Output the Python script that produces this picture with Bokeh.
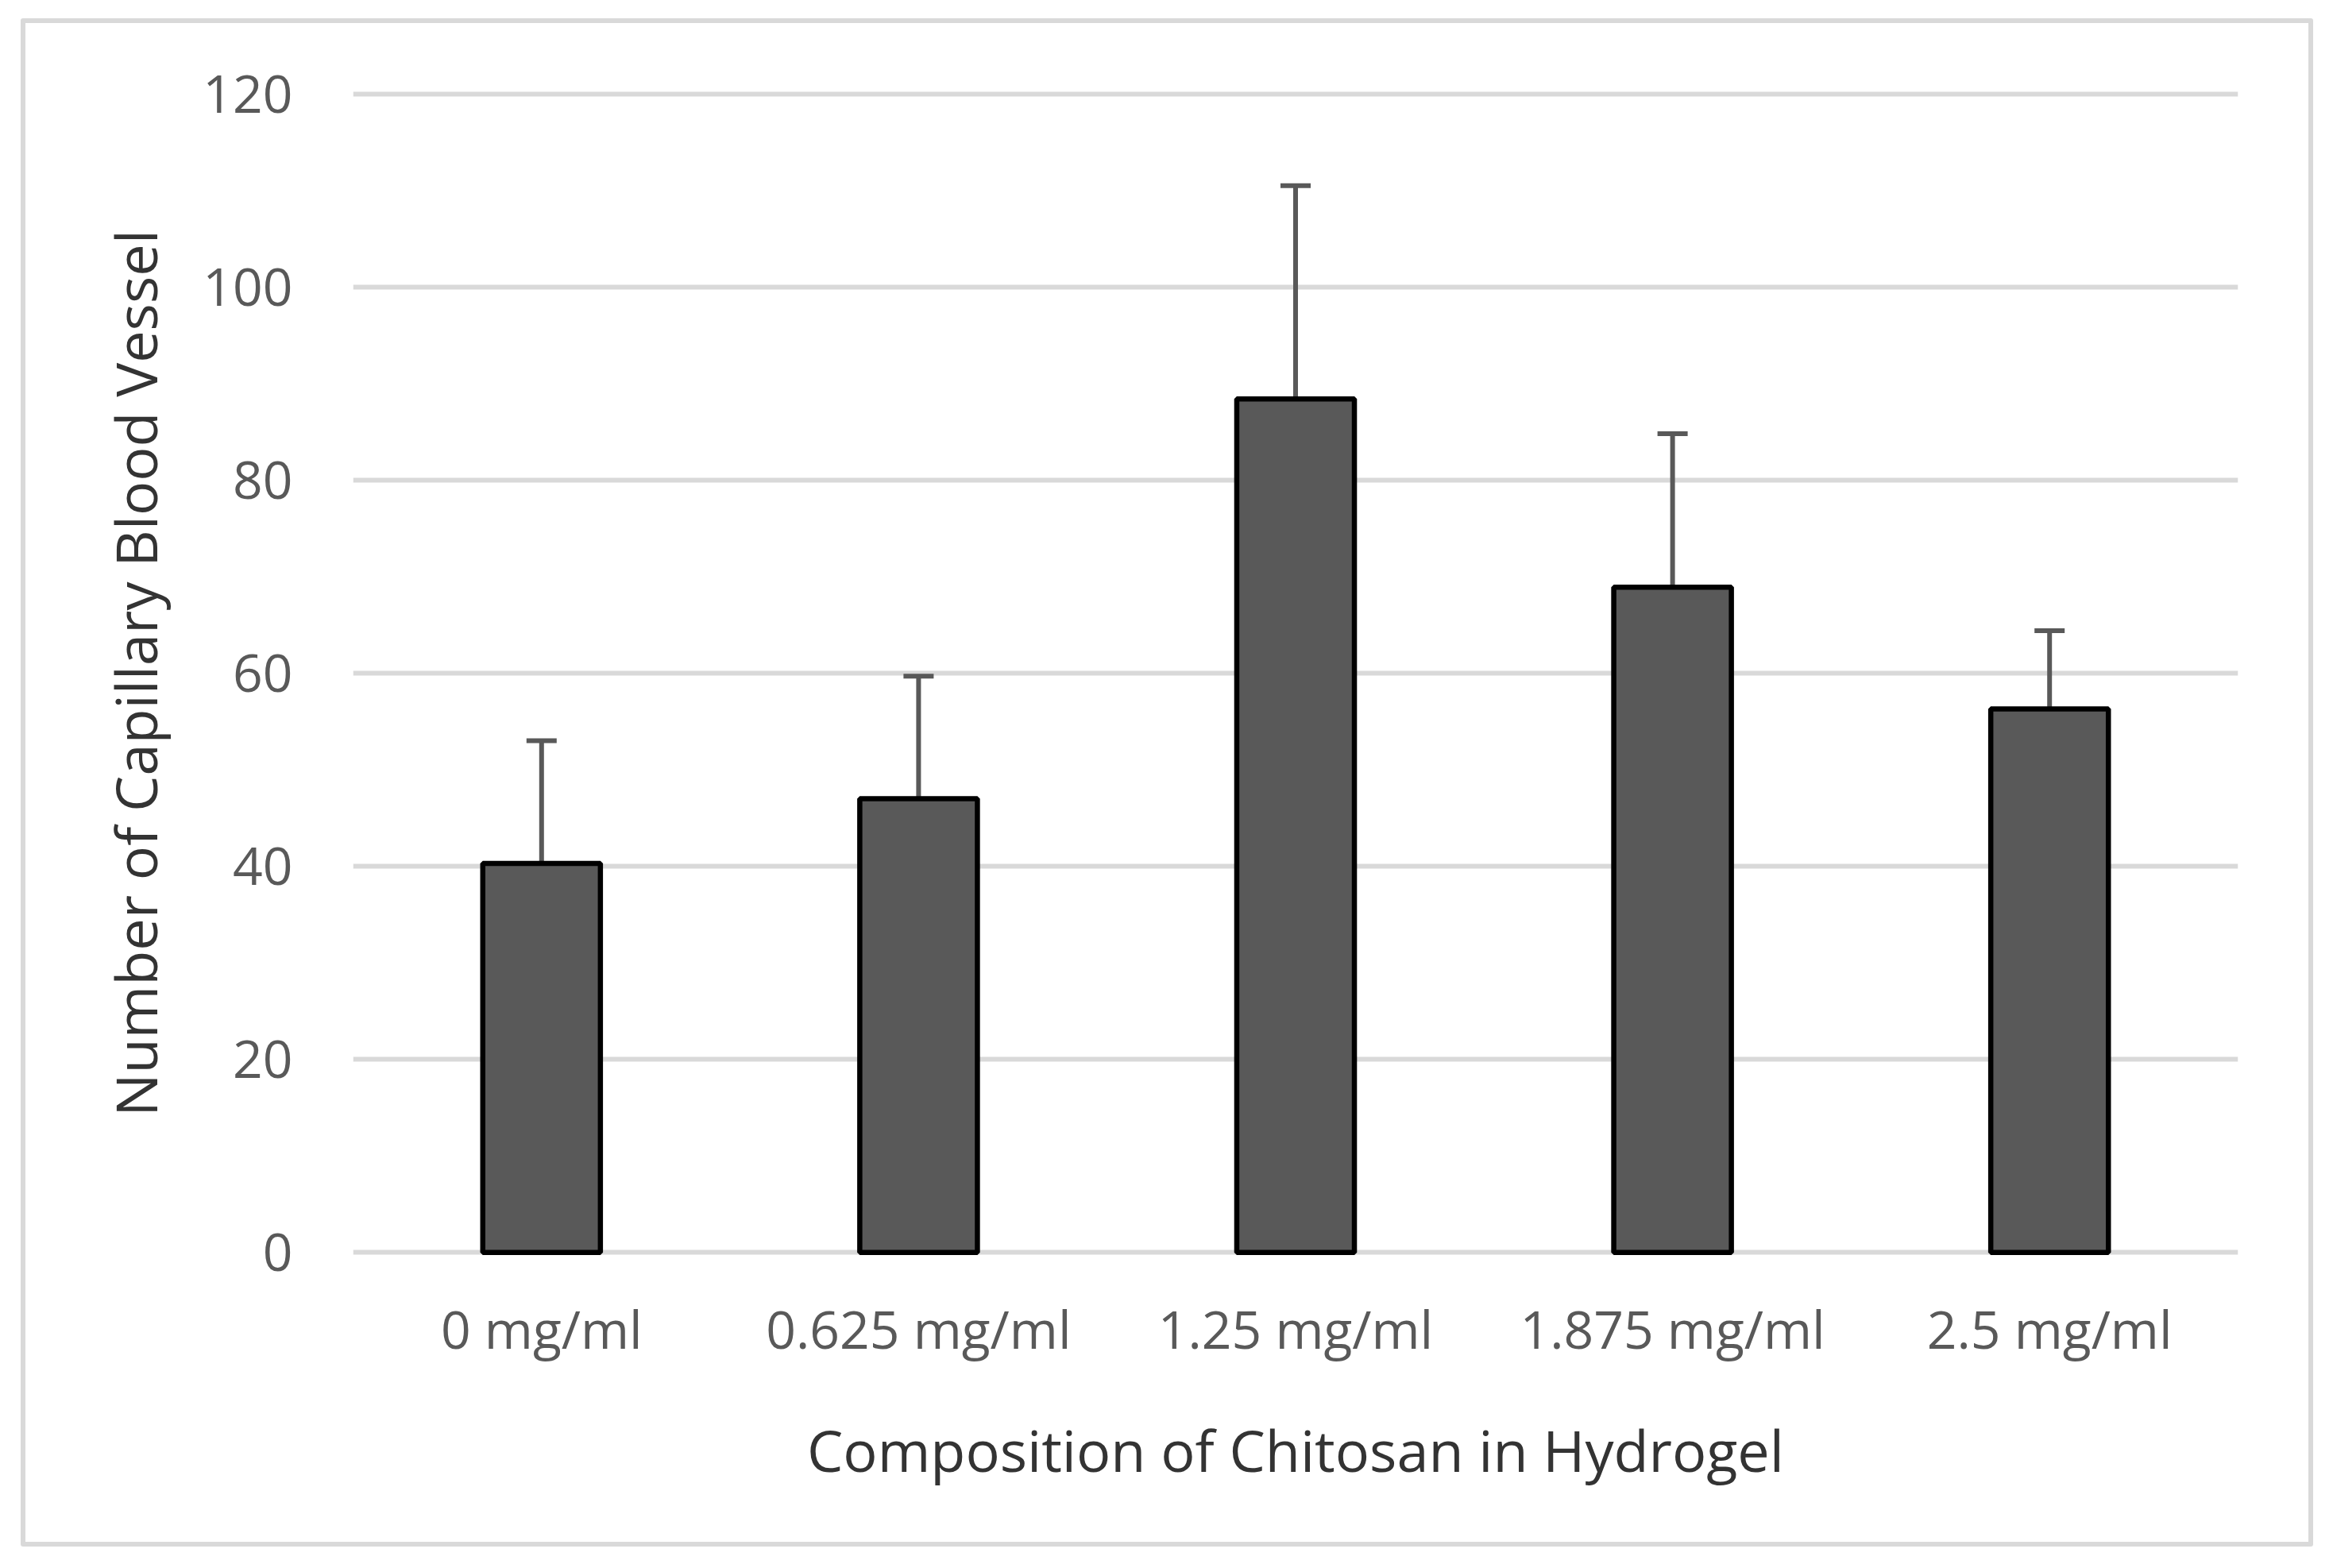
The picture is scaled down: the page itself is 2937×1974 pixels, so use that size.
from bokeh.plotting import figure
from bokeh.models import ColumnDataSource, Whisker, TeeHead, Range1d, FactorRange, FixedTicker
from bokeh.embed import file_html
from bokeh.resources import INLINE

categories = ["0 mg/ml", "0.625 mg/ml", "1.25 mg/ml", "1.875 mg/ml", "2.5 mg/ml"]
means = [40.3, 47.0, 88.4, 68.9, 56.3]
errors = [12.7, 12.7, 22.1, 15.9, 8.1]
y_ticks = [0, 20, 40, 60, 80, 100, 120]

x_title = "Composition of Chitosan in Hydrogel"
y_title = "Number of Capillary Blood Vessel"

W, H = 2886, 1924
FONT = "Open Sans"

src = ColumnDataSource(data=dict(
    x=categories,
    top=means,
    upper=[m + e for m, e in zip(means, errors)],
))

p = figure(
    width=W, height=H,
    x_range=FactorRange(*categories, range_padding=0),
    y_range=Range1d(-0.3, 120.3),
    output_backend="svg", toolbar_location=None,
    min_border_left=412, min_border_right=101,
    min_border_top=85, min_border_bottom=373,
)
p.background_fill_color = "white"
p.border_fill_color = "white"
p.outline_line_color = None
# chart-area border drawn around the figure
p.styles = {"border": "6px solid #d9d9d9", "border-radius": "3px",
            "margin-left": "26px", "margin-top": "23px"}

p.vbar(x="x", top="top", width=0.312, bottom=0, source=src,
       fill_color="#595959", line_color="black", line_width=6.5)

wh = Whisker(base="x", upper="upper", lower="top", source=src, dimension="height",
             line_color="#595959", line_width=6,
             upper_head=TeeHead(size=38, line_color="#595959", line_width=6),
             lower_head=None)
p.add_layout(wh)

# grid
p.xgrid.grid_line_color = None
p.ygrid.grid_line_color = "#d9d9d9"
p.ygrid.grid_line_width = 6
p.yaxis.ticker = FixedTicker(ticks=y_ticks)

for ax in (p.xaxis[0], p.yaxis[0]):
    ax.axis_line_color = None
    ax.major_tick_line_color = None
    ax.minor_tick_line_color = None
    ax.major_tick_in = 0
    ax.major_tick_out = 0
    ax.major_label_text_font = FONT
    ax.major_label_text_font_size = "66px"
    ax.major_label_text_color = "#595959"
    ax.axis_label_text_font = FONT
    ax.axis_label_text_font_size = "72px"
    ax.axis_label_text_font_style = "normal"
    ax.axis_label_text_color = "#333333"

p.xaxis.axis_label = x_title
p.yaxis.axis_label = y_title
p.xaxis.major_label_standoff = 46
p.xaxis.axis_label_standoff = 56
p.yaxis.major_label_standoff = 76
p.yaxis.axis_label_standoff = 33

open("out.html", "w").write(file_html(p, INLINE))
